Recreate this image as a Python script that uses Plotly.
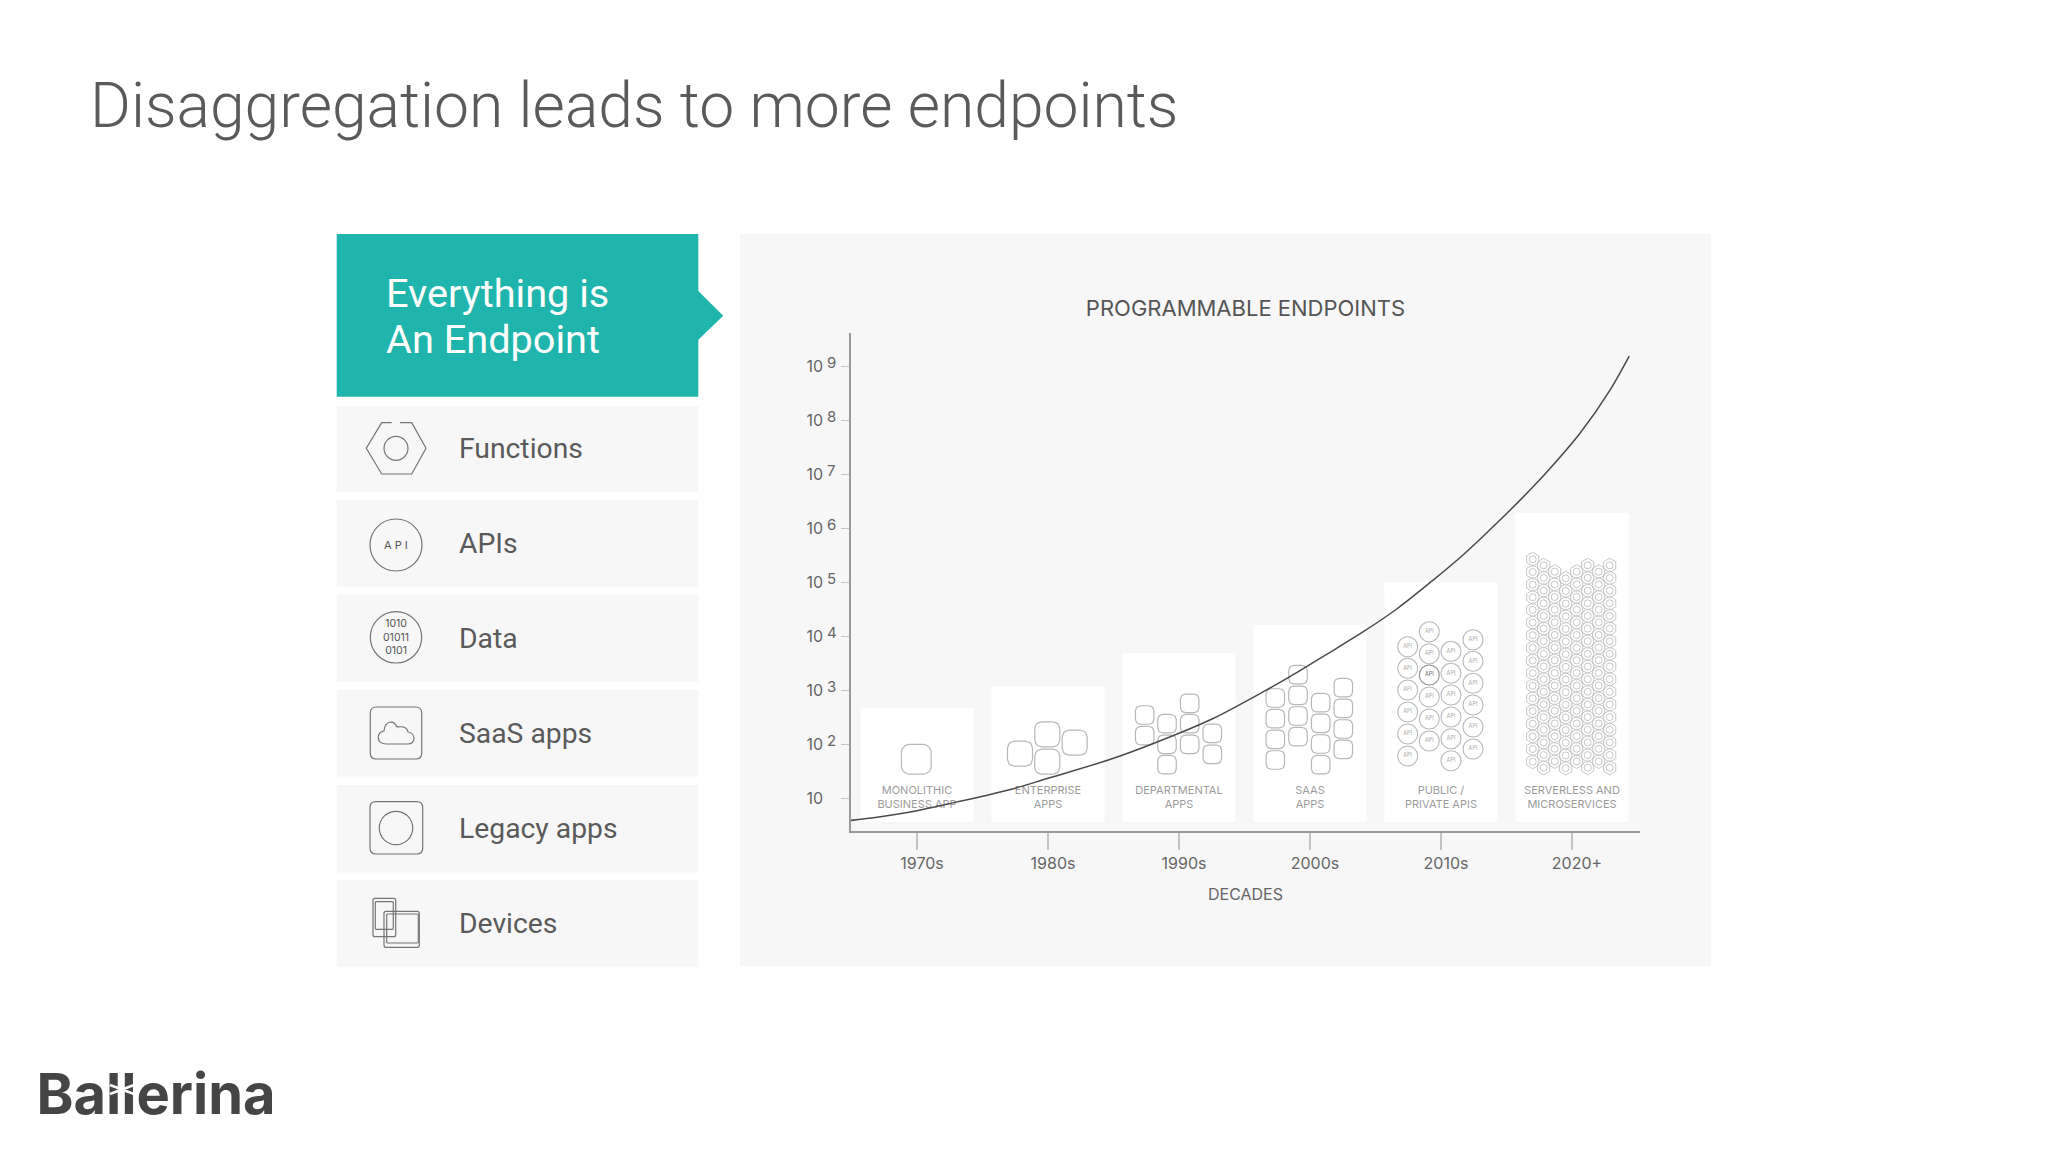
import math

import plotly.graph_objects as go

# --- data ---
decades = ["1970s", "1980s", "1990s", "2000s", "2010s", "2020+"]
panel_labels = ["MONOLITHIC<br>BUSINESS APP", "ENTERPRISE<br>APPS", "DEPARTMENTAL<br>APPS",
                "SAAS<br>APPS", "PUBLIC /<br>PRIVATE APIS", "SERVERLESS AND<br>MICROSERVICES"]
panel_tops = [470, 1200, 4900, 16200, 100000, 1920000]
panel_base = 3.64

curve_x = [-0.505, -0.28, 0.0, 0.30, 0.53, 0.735, 1.0, 1.5, 2.0, 2.26, 2.644, 2.847, 3.153,
           3.407, 3.662, 3.916, 4.17, 4.425, 4.679, 4.832, 5.061, 5.29, 5.437]
curve_y = [3.9, 4.56, 5.9, 8.5, 11.3, 15, 23.5, 55, 160, 300, 942, 1786, 5058,
           12160, 32060, 98400, 324300, 1239000, 5117000, 12790000, 57500000, 363000000, 1550000000]

y_ticks = [10, 100, 1000, 10000, 100000, 1000000, 10000000, 100000000, 1000000000]
y_exponents = ["", "2", "3", "4", "5", "6", "7", "8", "9"]

menu_items = ["Functions", "APIs", "Data", "SaaS apps", "Legacy apps", "Devices"]

TEAL = "#20b5ac"
PANEL = "#f7f7f7"
TEXT = "#5a5a5a"
ICON = "#b8b8b8"
W, H = 2048, 1152


# pixels of the page -> axes units, the illustrations in the panels are placed by eye
def to_x(px):
    return (px - 917) / 131


def to_y(py):
    return 10 ** (1 + (798.3 - py) / 54)


def p(px, py):
    return f"{px / W:.5f},{1 - py / H:.5f}"


def rect_path(x0, y0, x1, y1, r):
    return (f"M{p(x0 + r, y0)} L{p(x1 - r, y0)} Q{p(x1, y0)} {p(x1, y0 + r)} "
            f"L{p(x1, y1 - r)} Q{p(x1, y1)} {p(x1 - r, y1)} "
            f"L{p(x0 + r, y1)} Q{p(x0, y1)} {p(x0, y1 - r)} "
            f"L{p(x0, y0 + r)} Q{p(x0, y0)} {p(x0 + r, y0)} Z")


def page_rect(x0, y0, x1, y1, color):
    return dict(type="rect", xref="paper", yref="paper", x0=x0 / W, x1=x1 / W, y0=1 - y0 / H, y1=1 - y1 / H,
                fillcolor=color, line_width=0, layer="below")


def outline(path, color="#757575", width=1.2):
    return dict(type="path", xref="paper", yref="paper", path=path, line=dict(color=color, width=width))


def ring(cx, cy, r, color="#757575", width=1.2):
    return dict(type="circle", xref="paper", yref="paper", x0=(cx - r) / W, x1=(cx + r) / W,
                y0=1 - (cy - r) / H, y1=1 - (cy + r) / H, line=dict(color=color, width=width))


def page_text(text, x, y, size, color, family="Roboto", anchor="left", **font):
    return dict(text=text, xref="paper", yref="paper", x=x / W, y=1 - y / H, xanchor=anchor, yanchor="middle",
                showarrow=False, font=dict(family=family, size=size, color=color, **font))


def round_square(cx, cy, s, r):
    xs, ys = [], []
    h = s / 2 - r
    for sx, sy, start in [(1, -1, -90), (1, 1, 0), (-1, 1, 90), (-1, -1, 180)]:
        for k in range(6):
            a = math.radians(start + k * 18)
            xs.append(to_x(cx + sx * h + r * math.cos(a)))
            ys.append(to_y(cy + sy * h + r * math.sin(a)))
    return xs + [xs[0], None], ys + [ys[0], None]


# --- slide background pieces ---
shapes = [page_rect(740, 234, 1711, 966, PANEL)]
shapes.append(page_rect(336.7, 234, 698.3, 396.7, TEAL))
shapes.append(dict(type="path", xref="paper", yref="paper", layer="below", fillcolor=TEAL, line_width=0,
                   path=f"M{p(698, 290.7)} L{p(723.3, 315.7)} L{p(698, 340)} Z"))
row_top = [406, 500, 594.3, 690, 785, 880]
row_bottom = [491.7, 586.7, 681.7, 776.7, 872.7, 966.7]
for a, b in zip(row_top, row_bottom):
    shapes.append(page_rect(336.7, a, 698.3, b, PANEL))

# menu icons
shapes.append(outline(f"M{p(391.7, 422.7)} L{p(381.7, 422.7)} L{p(366.3, 448.3)} L{p(381.7, 474)} L{p(411.7, 474)} "
                      f"L{p(426, 448.3)} L{p(411.7, 422.7)} L{p(400, 422.7)}"))
shapes.append(ring(396, 448.3, 12))
shapes.append(ring(396, 545, 26))
shapes.append(ring(396, 637.3, 25.7))
shapes.append(outline(rect_path(370.3, 707, 421.7, 759, 6)))
shapes.append(outline(f"M{p(386, 744)} L{p(408, 744)} C{p(416, 744)} {p(416, 733)} {p(408, 732)} "
                      f"C{p(407, 725)} {p(398, 727)} {p(397, 727)} C{p(394, 720)} {p(385, 720)} {p(384, 731)} "
                      f"C{p(376, 732)} {p(376, 744)} {p(386, 744)} Z"))
shapes.append(outline(rect_path(370, 801.7, 422.7, 854, 6)))
shapes.append(ring(396, 828, 16.7))
shapes.append(outline(rect_path(373, 898.3, 395.7, 936.7, 2)))
shapes.append(outline(rect_path(375.3, 901.7, 393.3, 929.3, 1)))
shapes.append(outline(rect_path(384, 911.3, 419.3, 947.3, 2)))
shapes.append(outline(rect_path(386.7, 914, 418.3, 943, 1)))

fig = go.Figure()

# white decade panels
fig.add_trace(go.Bar(x=list(range(len(decades))), y=[t - panel_base for t in panel_tops], base=panel_base,
                     width=0.865, marker=dict(color="white", line_width=0), hoverinfo="skip"))

# rounded app squares in the first four panels
squares = [
    (29.7, [(916.3, 759.3)]),
    (25, [(1020, 753.7), (1047.3, 734.3), (1047.3, 761.7), (1074.7, 742.7)]),
    (18.5, [(1144.7, 715), (1144.7, 735.7), (1167, 723.7), (1167, 744.3), (1167, 764.7), (1189.7, 703.3),
            (1189.7, 723.7), (1189.7, 744.3), (1212.3, 733.3), (1212.3, 754.3)]),
    (18.5, [(1275.3, 698), (1275.3, 718.7), (1275.3, 739.3), (1275.3, 760),
            (1298, 674.7), (1298, 695.3), (1298, 716), (1298, 736.7),
            (1320.7, 702.7), (1320.7, 723.3), (1320.7, 744), (1320.7, 764.7),
            (1343.3, 687.7), (1343.3, 708.3), (1343.3, 729), (1343.3, 749.3)]),
]
sq_x, sq_y = [], []
for size, centers in squares:
    for cx, cy in centers:
        xs, ys = round_square(cx, cy, size, size * 0.27)
        sq_x += xs
        sq_y += ys
fig.add_trace(go.Scatter(x=sq_x, y=sq_y, mode="lines", line=dict(color=ICON, width=1.2), hoverinfo="skip"))

# API circles, one of them darker
api_cols = {1407.7: [646.7, 668.3, 690, 712, 734, 756], 1429.3: [631.7, 653.7, 675, 697, 719, 741],
            1451: [651.3, 673.3, 695, 717, 738.7, 760.7], 1473: [639.7, 661.3, 683.3, 705, 727, 749]}
api_x, api_y, api_ring, api_text = [], [], [], []
for cx, rows in api_cols.items():
    for cy in rows:
        api_x.append(to_x(cx))
        api_y.append(to_y(cy))
        api_ring.append("#8c8c8c" if (cx, cy) == (1429.3, 675) else ICON)
        api_text.append("#666666" if (cx, cy) == (1429.3, 675) else "#aaaaaa")
fig.add_trace(go.Scatter(x=api_x, y=api_y, mode="markers+text", text=["API"] * len(api_x),
                         textposition="middle center", textfont=dict(family="Inter", size=5.5, color=api_text),
                         marker=dict(symbol="circle-open", size=20, color=api_ring, line=dict(width=1.1)),
                         hoverinfo="skip"))

# hexagons of the last panel
hex_cols = [(1532.7, 559.3, 17), (1543.7, 565.3, 17), (1554.7, 571.7, 16), (1565.7, 578.3, 16),
            (1576.7, 571.7, 16), (1587.7, 565.3, 17), (1598.7, 571.7, 16), (1609.7, 565.3, 17)]
hex_x, hex_y = [], []
for cx, top, n in hex_cols:
    for k in range(n):
        hex_x.append(to_x(cx))
        hex_y.append(to_y(top + k * 12.65))
fig.add_trace(go.Scatter(x=hex_x, y=hex_y, mode="markers", hoverinfo="skip",
                         marker=dict(symbol="hexagon-open", size=14, color="#c6c6c6", line=dict(width=1))))
fig.add_trace(go.Scatter(x=hex_x, y=hex_y, mode="markers", hoverinfo="skip",
                         marker=dict(symbol="circle-open", size=7, color="#c6c6c6", line=dict(width=1))))

# labels at the foot of the panels, under the curve
fig.add_trace(go.Scatter(x=list(range(len(decades))), y=[to_y(798.3)] * len(decades), mode="text", text=panel_labels,
                         textposition="middle center", hoverinfo="skip",
                         textfont=dict(family="Inter", size=11, color="#9c9c9c")))

# the curve itself
fig.add_trace(go.Scatter(x=curve_x, y=curve_y, mode="lines", hoverinfo="skip",
                         line=dict(color="#4a4a4a", width=1.5, shape="spline", smoothing=0.8)))

# logo word in its own small subplot, so the white cuts (shapes above) can sit on top of it
fig.add_trace(go.Scatter(x=[156], y=[1100], xaxis="x2", yaxis="y2", mode="text", text=["Ballerina"],
                         textposition="middle center", hoverinfo="skip",
                         textfont=dict(family="Inter", size=56, color="#454545", weight=700)))
for x0, y0, x1, y1 in [(110, 1085, 134, 1094), (110, 1094, 134, 1085), (123, 1068, 123, 1116)]:
    shapes.append(dict(type="line", xref="paper", yref="paper", x0=x0 / W, x1=x1 / W, y0=1 - y0 / H, y1=1 - y1 / H,
                       line=dict(color="white", width=2.5)))

annotations = [
    page_text("Disaggregation leads to more endpoints", 88, 106, 62.4, TEXT, weight=300),
    page_text("Everything is", 383.5, 294, 39.7, "white"),
    page_text("An Endpoint", 383.5, 340, 39.7, "white"),
    page_text("A P I", 396, 545, 11, "#555555", family="Inter", anchor="center"),
    page_text("1010<br>01011<br>0101", 396, 637.3, 10.5, "#555555", family="Inter", anchor="center"),
]
for item, a, b in zip(menu_items, row_top, row_bottom):
    annotations.append(page_text(item, 456.5, (a + b) / 2, 28.3, TEXT))
for tick, exp in zip(y_ticks, y_exponents):
    if exp:
        annotations.append(dict(text=exp, xref="paper", yref="y", x=825 / W, y=math.log10(tick), yshift=4,
                                xanchor="left", showarrow=False, font=dict(family="Inter", size=15, color="#666666")))

fig.update_layout(
    width=W, height=H, margin=dict(l=0, r=0, t=0, b=0), autosize=False,
    paper_bgcolor="white", plot_bgcolor="rgba(0,0,0,0)",
    showlegend=False, barmode="overlay", barcornerradius=2,
    shapes=shapes, annotations=annotations,
    title=dict(text="PROGRAMMABLE ENDPOINTS", x=1245.5 / W, xanchor="center", y=1 - 308 / H, yanchor="middle",
               font=dict(family="Inter", size=22, color="#555555")),
    xaxis=dict(domain=[851 / W, 1640 / W], range=[-0.5038, 5.5191], tickmode="array",
               tickvals=list(range(len(decades))), ticktext=decades, ticks="outside", ticklen=17, tickwidth=1.5,
               tickcolor="#c4c4c4", showline=True, linecolor="#9a9a9a", linewidth=1.5, showgrid=False, zeroline=False,
               ticklabelshift=5, ticklabelstandoff=0, tickfont=dict(family="Inter", size=16, color="#666666"),
               title=dict(text="DECADES", standoff=17, font=dict(family="Inter", size=16, color="#666666"))),
    yaxis=dict(domain=[1 - 831.3 / H, 1 - 333 / H], type="log", range=[0.389, 9.617], tickmode="array",
               tickvals=y_ticks, ticktext=["10"] * len(y_ticks), ticks="outside", ticklen=8, tickwidth=1,
               tickcolor="#c4c4c4", showline=True, linecolor="#9a9a9a", linewidth=1.5, showgrid=False, zeroline=False,
               ticklabelstandoff=15, tickfont=dict(family="Inter", size=16, color="#666666")),
    xaxis2=dict(domain=[0, 320 / W], range=[0, 320], visible=False, anchor="y2"),
    yaxis2=dict(domain=[1 - 1150 / H, 1 - 1050 / H], range=[1150, 1050], visible=False, anchor="x2"),
)

fig.write_html("out.html", config=dict(displayModeBar=False),
               post_script="document.body.style.margin='0';document.body.style.overflow='hidden';")
